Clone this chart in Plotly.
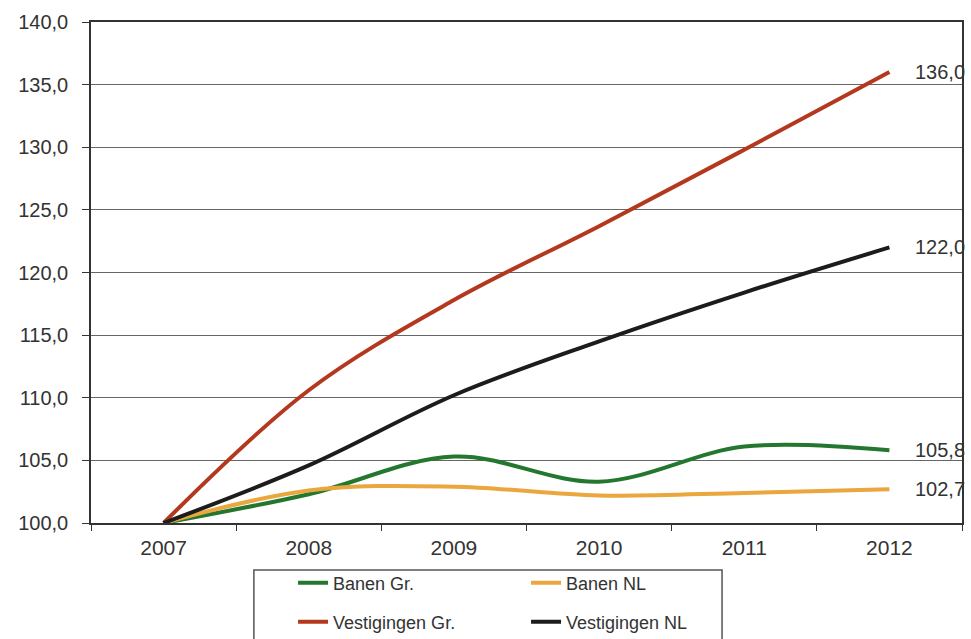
import plotly.graph_objects as go

years = ["2007", "2008", "2009", "2010", "2011", "2012"]
banen_gr = [100.0, 102.3, 105.3, 103.3, 106.1, 105.8]
banen_nl = [100.0, 102.6, 102.9, 102.2, 102.4, 102.7]
vest_gr = [100.0, 110.6, 117.8, 123.7, 129.8, 136.0]
vest_nl = [100.0, 104.6, 110.2, 114.5, 118.4, 122.0]
y_ticks = [100, 105, 110, 115, 120, 125, 130, 135, 140]

def fmt(v):
    return f"{v:.1f}".replace(".", ",")

FONT = "Liberation Sans, Arial, sans-serif"
series = [
    ("Banen Gr.", banen_gr, "#24772f", "legend"),
    ("Banen NL", banen_nl, "#e9a73d", "legend"),
    ("Vestigingen Gr.", vest_gr, "#b3381e", "legend2"),
    ("Vestigingen NL", vest_nl, "#1c1c1c", "legend2"),
]

fig = go.Figure()
for name, vals, col, lg in series:
    fig.add_trace(go.Scatter(
        x=years, y=vals, name=name, mode="lines",
        line=dict(color=col, width=4, shape="spline", smoothing=1.0),
        legend=lg,
    ))

# end labels (x given as category index of the last year)
last_idx = len(years) - 1
for name, vals, col, lg in series:
    fig.add_annotation(
        x=last_idx, y=vals[-1], xref="x", yref="y",
        text=fmt(vals[-1]), showarrow=False, xanchor="left", yanchor="middle",
        xshift=24, font=dict(family=FONT, size=20, color="#333333"),
    )

leg_common = dict(
    orientation="h", xref="container", yref="container",
    x=0.3018, xanchor="left", yanchor="middle",
    font=dict(family=FONT, size=18, color="#333333"),
    entrywidth=188, bgcolor="rgba(0,0,0,0)", traceorder="normal",
)

fig.update_layout(
    width=971, height=639,
    margin=dict(l=91, r=9, t=22, b=116, autoexpand=False),
    paper_bgcolor="white", plot_bgcolor="white",
    font=dict(family=FONT, color="#333333"),
    showlegend=True,
    legend=dict(y=1 - 583 / 639, **leg_common),
    legend2=dict(y=1 - 622 / 639, **leg_common),
    shapes=[dict(
        type="rect", xref="paper", yref="paper",
        x0=0.187, x1=0.7245, y0=-0.30, y1=-0.0938,
        line=dict(color="#555555", width=1.5), fillcolor="rgba(0,0,0,0)",
        layer="below",
    )],
)

fig.update_xaxes(
    type="category", range=[-0.5, 5.5],
    tickson="boundaries", ticks="outside", ticklen=6, tickcolor="#333333",
    showgrid=False, showline=True, mirror=True, linecolor="#333333", linewidth=1.5,
    tickfont=dict(family=FONT, size=21, color="#333333"),
    ticklabelstandoff=5, zeroline=False,
)
fig.update_yaxes(
    range=[100, 140], tickvals=y_ticks, ticktext=[fmt(v) for v in y_ticks],
    ticks="outside", ticklen=7, tickcolor="#333333",
    showgrid=True, gridcolor="#666666", gridwidth=1,
    showline=True, mirror=True, linecolor="#333333", linewidth=1.5,
    tickfont=dict(family=FONT, size=20, color="#333333"),
    ticklabelstandoff=10, zeroline=False,
)

fig.write_html("out.html")
